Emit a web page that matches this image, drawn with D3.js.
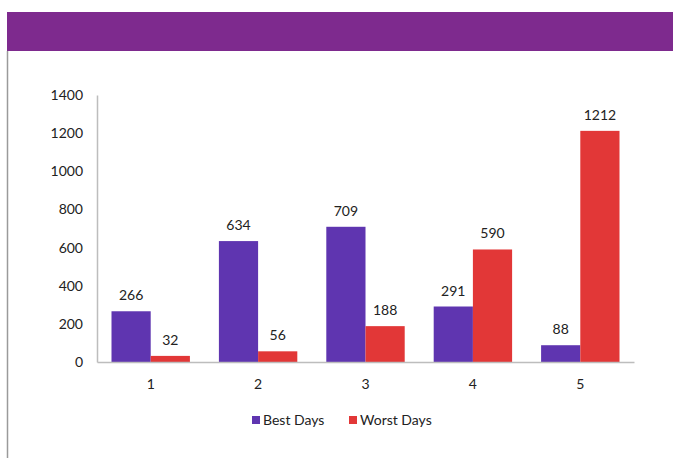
<!DOCTYPE html>
<html><head><meta charset="utf-8">
<script src="https://cdn.jsdelivr.net/npm/d3@7"></script>
<style>body{margin:0;background:#fff;}svg{display:block;font-family:Lato,"Open Sans",sans-serif;}</style>
</head><body>
<svg id="c" width="673" height="458"></svg>
<script>
const categories = ["1","2","3","4","5"];
const seriesNames = ["Best Days","Worst Days"];
const bestDays = [266,634,709,291,88];
const worstDays = [32,56,188,590,1212];
const yTicks = [0,200,400,600,800,1000,1200,1400];
const colors = ["#5f35b0","#e23737"];

const svg = d3.select("#c");
svg.append("rect").attr("x",7).attr("y",12).attr("width",666).attr("height",39).attr("fill","#7e2a8e");
svg.append("line").attr("x1",7.5).attr("x2",7.5).attr("y1",51).attr("y2",458).attr("stroke","#9a9a9a").attr("stroke-width",1.5);

const x0 = d3.scaleBand().domain(categories).range([97,634]).paddingInner(0.27).paddingOuter(0.135);
const x1 = d3.scaleBand().domain(seriesNames).range([0,x0.bandwidth()]);
const y = d3.scaleLinear().domain([0,1400]).range([362,95]);
const fs = 14;

const yAxis = svg.append("g").attr("transform","translate(97,0)")
  .call(d3.axisLeft(y).tickValues(yTicks).tickFormat(d3.format("d")).tickSize(0).tickPadding(14));
yAxis.select(".domain").attr("stroke","#bdbdbd").attr("stroke-width",1.5);
yAxis.selectAll("text").attr("font-size",fs).attr("fill","#222").attr("font-family","Lato,sans-serif");

const data = categories.map((c,i)=>({c, vals:[bestDays[i],worstDays[i]]}));
const g = svg.append("g");
data.forEach(d=>{
  d.vals.forEach((v,j)=>{
    const xx = x0(d.c)+x1(seriesNames[j]);
    g.append("rect").attr("x",xx).attr("y",y(v)).attr("width",x1.bandwidth()).attr("height",y(0)-y(v)).attr("fill",colors[j]);
    g.append("text").attr("x",xx+x1.bandwidth()/2).attr("y",y(v)-11).attr("text-anchor","middle")
      .attr("font-size",fs).attr("fill","#222").text(v);
  });
});

const xAxis = svg.append("g").attr("transform","translate(0,362)")
  .call(d3.axisBottom(x0).tickSize(0).tickPadding(17));
xAxis.select(".domain").attr("stroke","#bdbdbd").attr("stroke-width",1.5);
xAxis.selectAll("text").attr("font-size",fs).attr("fill","#222").attr("font-family","Lato,sans-serif");

const leg = svg.append("g");
const legX = [252,349];
seriesNames.forEach((n,j)=>{
  leg.append("rect").attr("x",legX[j]).attr("y",416).attr("width",8).attr("height",8).attr("fill",colors[j]);
  leg.append("text").attr("x",legX[j]+11).attr("y",425).attr("font-size",fs).attr("fill","#222").text(n);
});
</script>
</body></html>
